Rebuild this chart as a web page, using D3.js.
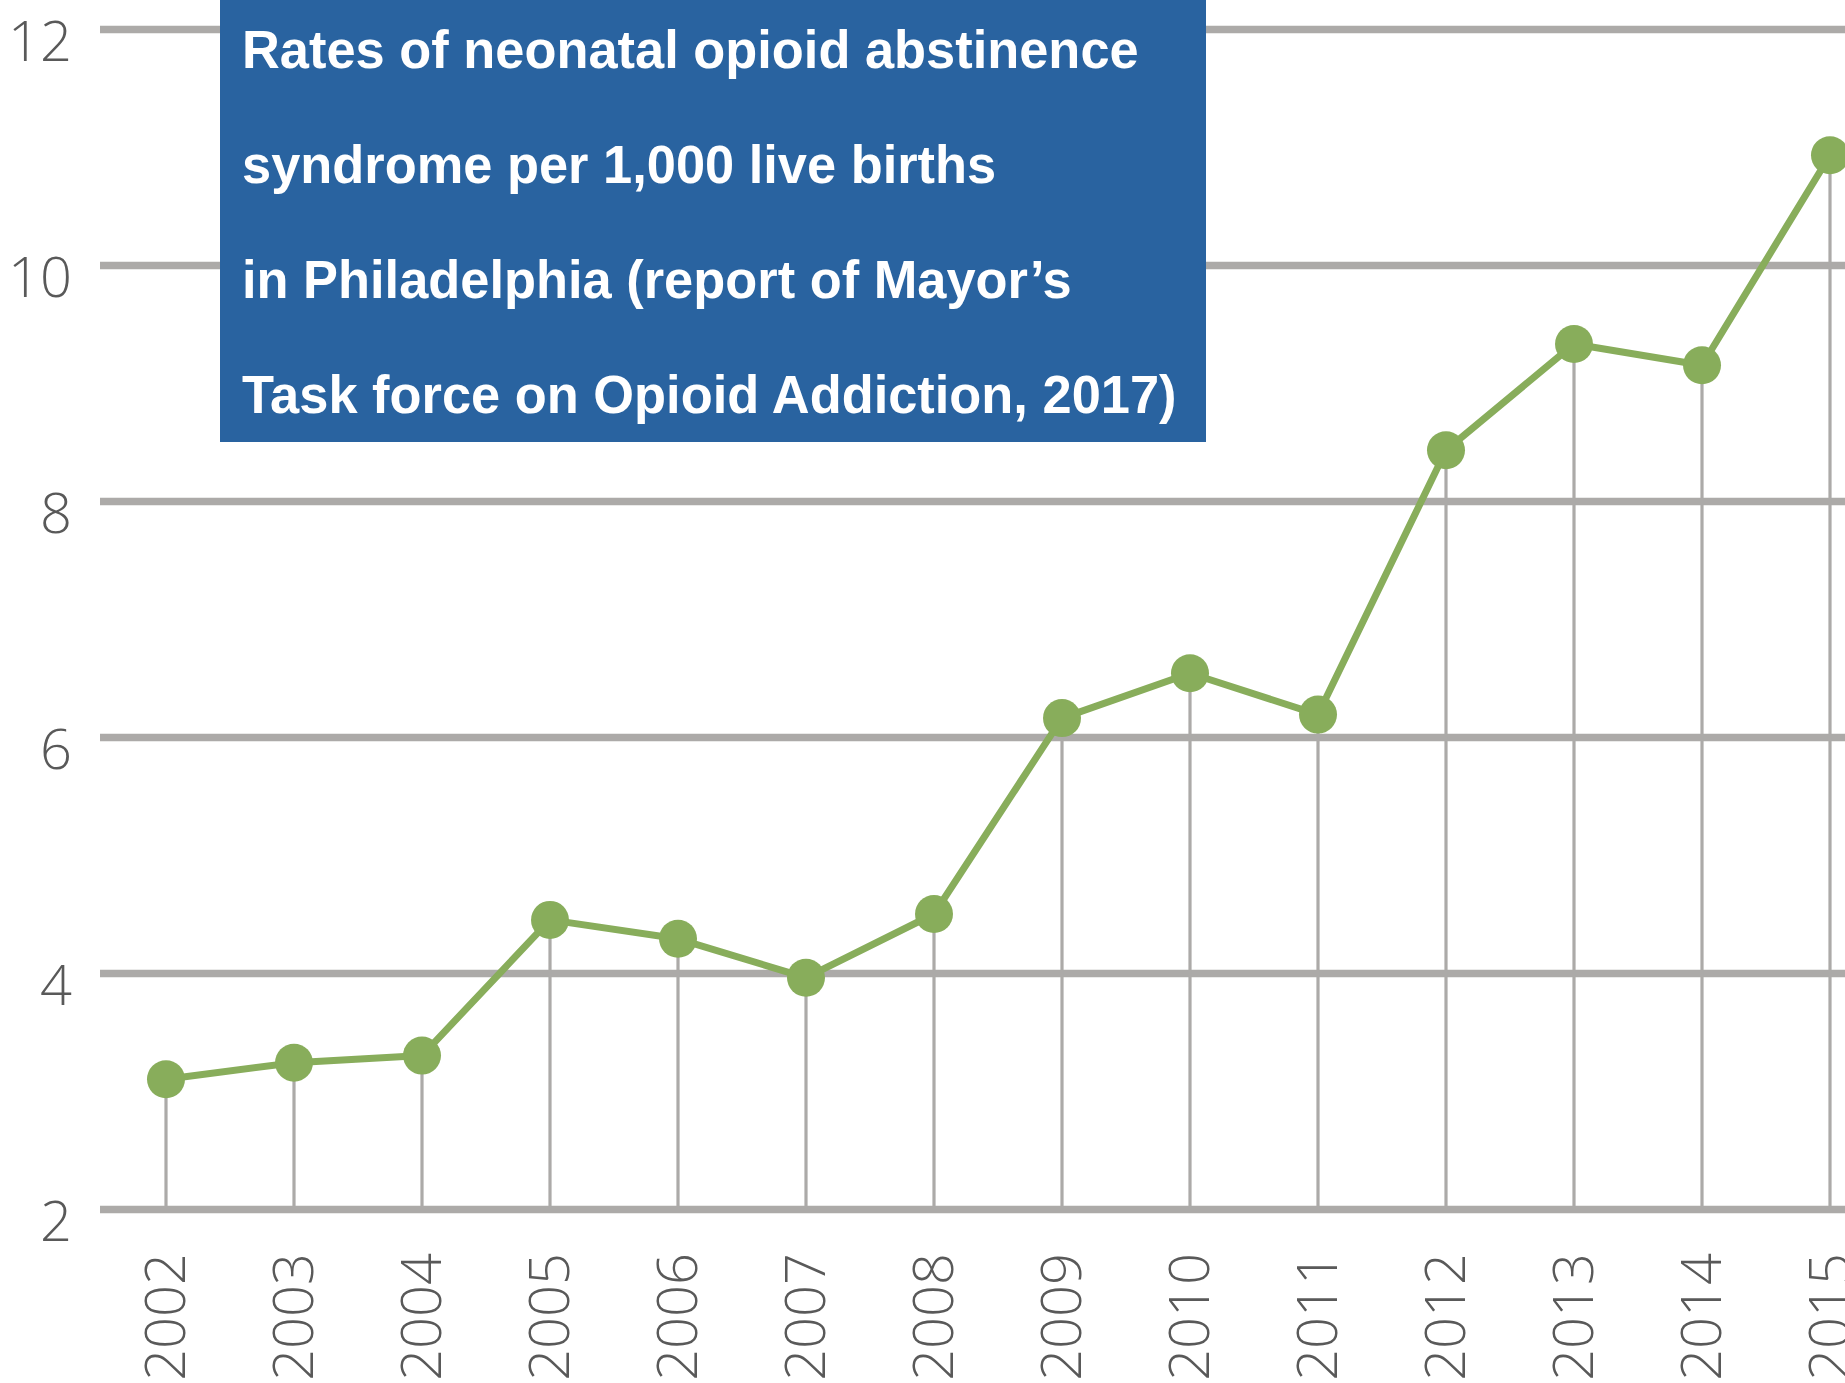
<!DOCTYPE html>
<html>
<head>
<meta charset="utf-8">
<script src="https://cdn.jsdelivr.net/npm/d3@7"></script>
<style>
  body { margin: 0; background: #fff; }
  svg { display: block; }
</style>
</head>
<body>
<div id="chart"></div>
<script>
"use strict";

// data
var years = [2002, 2003, 2004, 2005, 2006, 2007, 2008, 2009, 2010, 2011, 2012, 2013, 2014, 2015];
var rates = [3.1, 3.24, 3.3, 4.45, 4.29, 3.96, 4.5, 6.16, 6.54, 6.19, 8.43, 9.33, 9.15, 10.93];
var yTicks = [2, 4, 6, 8, 10, 12];
var titleLines = [
  "Rates of neonatal opioid abstinence",
  "syndrome per 1,000 live births",
  "in Philadelphia (report of Mayor\u2019s",
  "Task force on Opioid Addiction, 2017)"
];

var W = 1845, H = 1383;
var plotLeft = 100;

var green = "#88ad5b";
var grid = "#acaaa8";

var svg = d3.select("#chart").append("svg")
  .attr("width", W)
  .attr("height", H);

var x = d3.scaleLinear().domain([2002, 2015]).range([166, 1830]);
var y = d3.scaleLinear().domain([2, 12]).range([1209, 29]);

// horizontal gridlines + y labels
var yAxis = d3.axisLeft(y)
  .tickValues(yTicks)
  .tickSizeInner(-(W - plotLeft + 10))
  .tickSizeOuter(0)
  .tickPadding(28);

var gy = svg.append("g")
  .attr("class", "y axis")
  .attr("transform", "translate(" + plotLeft + ",0)")
  .call(yAxis);
gy.select(".domain").remove();
gy.selectAll(".tick line")
  .attr("stroke", grid)
  .attr("stroke-width", 7.5);
gy.selectAll(".tick text")
  .attr("dy", "0.56em")
  .attr("fill", "#595959")
  .style("font-family", "'Open Sans', 'DejaVu Sans', sans-serif")
  .style("font-weight", 300)
  .style("font-size", "56px");

// drop lines from each point to the baseline
svg.append("g").attr("class", "drops")
  .selectAll("line")
  .data(years)
  .enter().append("line")
  .attr("x1", function (d) { return x(d); })
  .attr("x2", function (d) { return x(d); })
  .attr("y1", function (d, i) { return y(rates[i]); })
  .attr("y2", y(2))
  .attr("stroke", grid)
  .attr("stroke-width", 3.2);

// x axis labels (rotated years)
var xAxis = d3.axisBottom(x)
  .tickValues(years)
  .tickFormat(d3.format("d"))
  .tickSize(0);

var gx = svg.append("g")
  .attr("class", "x axis")
  .attr("transform", "translate(0," + y(2) + ")")
  .call(xAxis);
gx.select(".domain").remove();
gx.selectAll(".tick text")
  .attr("transform", "rotate(-90)")
  .attr("x", -44)
  .attr("y", 18)
  .attr("dy", 0)
  .attr("text-anchor", "end")
  .attr("fill", "#595959")
  .style("font-family", "'Open Sans', 'DejaVu Sans', sans-serif")
  .style("font-weight", 300)
  .style("font-size", "56px");

// the series
var line = d3.line()
  .x(function (d, i) { return x(years[i]); })
  .y(function (d) { return y(d); });

svg.append("path")
  .datum(rates)
  .attr("fill", "none")
  .attr("stroke", green)
  .attr("stroke-width", 7)
  .attr("stroke-linejoin", "round")
  .attr("d", line);

svg.append("g").attr("class", "dots")
  .selectAll("circle")
  .data(rates)
  .enter().append("circle")
  .attr("cx", function (d, i) { return x(years[i]); })
  .attr("cy", function (d) { return y(d); })
  .attr("r", 19)
  .attr("fill", green);

// title box
var box = svg.append("g").attr("class", "title");
box.append("rect")
  .attr("x", 220)
  .attr("y", 0)
  .attr("width", 986)
  .attr("height", 442)
  .attr("fill", "#2963a0");

var txt = box.selectAll("text")
  .data(titleLines)
  .enter().append("text")
  .attr("x", 0)
  .attr("y", 0)
  .attr("fill", "#fff")
  .style("font-family", "'Liberation Sans Narrow', 'Arial Narrow', 'Liberation Sans', Arial, sans-serif")
  .style("font-weight", "bold")
  .style("font-size", "53px")
  .text(function (d) { return d; });

// fit to a narrow bold face: first line is ~897px wide in the reference
var w0 = txt.node().getComputedTextLength();
var sx = 897 / w0;
txt.attr("transform", function (d, i) {
  return "translate(242," + (68 + i * 115) + ") scale(" + sx + ",1)";
});
</script>
</body>
</html>
